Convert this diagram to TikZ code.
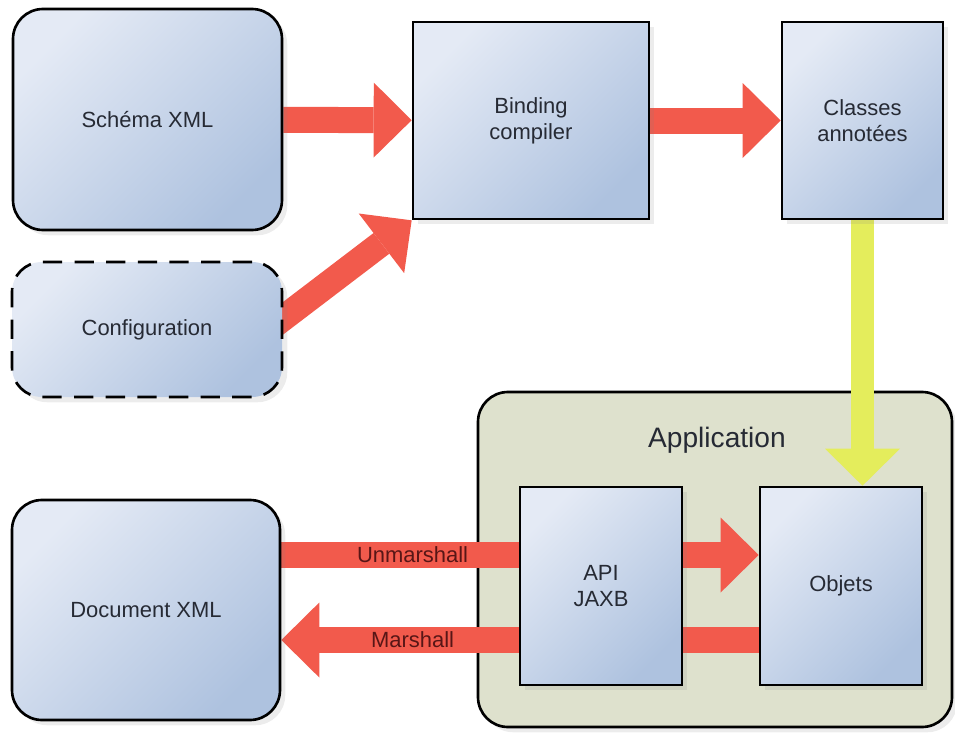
\documentclass[tikz,border=0pt]{standalone}
\usepackage{fontspec}
\setmainfont{Liberation Sans}
\usetikzlibrary{arrows.meta,shadows}

\definecolor{boxlight}{RGB}{228,234,245}
\definecolor{boxdark}{RGB}{174,194,223}
\definecolor{appfill}{RGB}{222,225,205}
\definecolor{arrowred}{RGB}{242,90,76}
\definecolor{arrowyellow}{RGB}{228,237,92}
\definecolor{labeltext}{RGB}{38,42,52}
\definecolor{marshtext}{RGB}{88,22,22}

\pgfdeclarelayer{back}
\pgfdeclarelayer{mid}
\pgfsetlayers{back,mid,main}

\tikzset{
  box/.style={draw=black, line width=1.5pt, top color=boxlight, bottom color=boxdark,
    shading angle=45, drop shadow={opacity=.15, shadow xshift=3pt, shadow yshift=-3pt},
    text=labeltext, align=center, font=\fontsize{12.5}{15}\selectfont},
  roundbox/.style={box, rounded corners=0.6cm},
  fatred/.style={draw=arrowred, line width=0.52cm,
    -{Triangle[width=1.5cm, length=0.76cm, line width=0pt]}},
  fatyellow/.style={draw=arrowyellow, line width=0.46cm,
    -{Triangle[width=1.5cm, length=0.74cm, line width=0pt]}},
  marshlabel/.style={text=marshtext, font=\fontsize{12.5}{15}\selectfont}
}

\begin{document}
\begin{tikzpicture}
\useasboundingbox (0,0) rectangle (19.1,-14.66);

% container
\begin{pgfonlayer}{back}
\node (app) at (14.3,-11.19) [draw=black, line width=1.5pt, fill=appfill, rounded corners=0.6cm,
  drop shadow={opacity=.15, shadow xshift=3pt, shadow yshift=-3pt},
  minimum width=9.48cm, minimum height=6.7cm] {};
\end{pgfonlayer}
\node (applabel) at (14.34,-8.8) [text=labeltext, font=\fontsize{16}{19}\selectfont] {Application};

% boxes
\node (schema) at (2.95,-2.39) [roundbox, minimum width=5.38cm, minimum height=4.42cm] {Schéma XML};
\node (config) at (2.94,-6.59) [roundbox, dash pattern=on 11pt off 7pt, minimum width=5.4cm, minimum height=2.7cm] {Configuration};
\node (binding) at (10.62,-2.41) [box, minimum width=4.72cm, minimum height=3.94cm] {Binding\\compiler};
\node (classes) at (17.25,-2.41) [box, minimum width=3.22cm, minimum height=3.94cm] {Classes\\annotées};
\node (doc) at (2.92,-12.2) [roundbox, minimum width=5.36cm, minimum height=4.4cm] {Document XML};
\node (api) at (12.02,-11.72) [box, minimum width=3.24cm, minimum height=3.96cm] {API\\JAXB};
\node (objets) at (16.82,-11.72) [box, minimum width=3.24cm, minimum height=3.96cm] {Objets};

\coordinate (unm) at (0,-11.1);
\coordinate (marsh) at (0,-12.8);

% arrows
\begin{pgfonlayer}{mid}
\draw[fatred] (schema) -- (binding);
\draw[fatred] ([xshift=-0.3cm]config.east) -- (binding.south west);
\draw[fatred] (binding) -- (classes);
\draw[fatyellow] (classes.south) -- (classes.south |- objets.north);
\draw[fatred] (doc.east |- unm) -- (objets.west |- unm)
  node[marshlabel, pos=0.275] {Unmarshall};
\draw[fatred] (objets.west |- marsh) -- (doc.east |- marsh)
  node[marshlabel, pos=0.725] {Marshall};
\end{pgfonlayer}

\end{tikzpicture}
\end{document}
